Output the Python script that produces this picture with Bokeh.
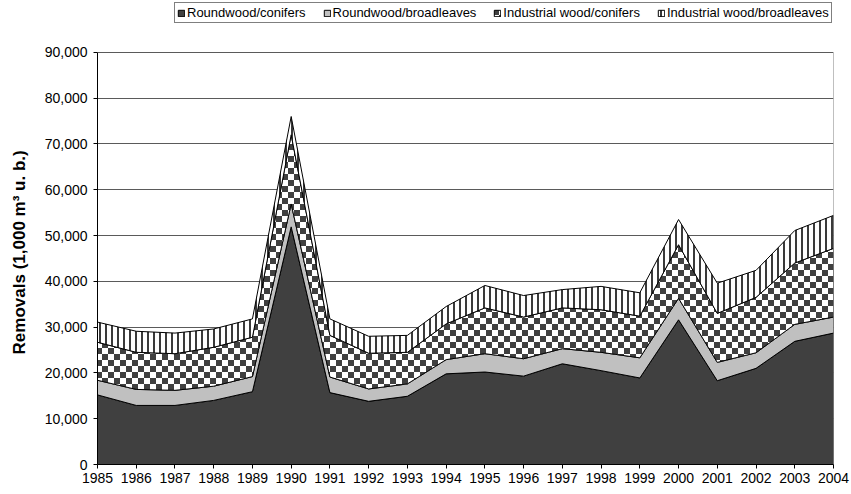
import numpy as np
from bokeh.plotting import figure
from bokeh.models import (Range1d, FixedTicker, NumeralTickFormatter, Legend,
                          LegendItem, CanvasTexture)
from bokeh.embed import file_html
from bokeh.resources import INLINE

years = list(range(1985, 2005))
roundwood_conifers = [15200, 12900, 12900, 14000, 15900, 51900, 15700, 13800, 14900, 19800,
                      20200, 19300, 22000, 20500, 18900, 31600, 18300, 21000, 26900, 28700]
roundwood_broadleaves = [3200, 3500, 3300, 3100, 3300, 5000, 3400, 2700, 2700, 3100,
                         4000, 3800, 3300, 4000, 4400, 4700, 4000, 3400, 3700, 3500]
industrial_conifers = [8300, 8100, 8000, 8500, 8600, 15100, 9100, 7800, 6900, 7800,
                       10000, 9100, 8900, 9300, 9100, 11700, 10700, 12100, 13400, 15000]
industrial_broadleaves = [4400, 4600, 4500, 4000, 4000, 4000, 3600, 3700, 3700, 3800,
                          4900, 4700, 4000, 5100, 5100, 5500, 6600, 5900, 7100, 7200]
series_names = ["Roundwood/conifers", "Roundwood/broadleaves",
                "Industrial wood/conifers", "Industrial wood/broadleaves"]
y_ticks = list(range(0, 90001, 10000))
y_title = "Removals (1,000 m³ u. b.)"

FONT = "Liberation Sans"

# frame extends above the 90,000 line so the legend can sit in the white band on top
p = figure(width=851, height=494, x_range=Range1d(1985, 2004), y_range=Range1d(0, 100900),
           output_backend="svg", toolbar_location=None,
           min_border_left=97, min_border_right=18, min_border_top=2, min_border_bottom=30)
p.background_fill_color = "white"
p.border_fill_color = "white"
p.outline_line_color = None

checker = CanvasTexture(code="""
const c = ctx.canvas;
c.width = 12; c.height = 12;
ctx.fillStyle = "#ffffff"; ctx.fillRect(0, 0, 12, 12);
ctx.fillStyle = "#404040";
ctx.fillRect(0, 0, 6, 6); ctx.fillRect(6, 6, 6, 6);
""")

series = [roundwood_conifers, roundwood_broadleaves, industrial_conifers, industrial_broadleaves]
styles = [
    dict(fill_color="#404040"),
    dict(fill_color="#c0c0c0"),
    dict(fill_color="white", hatch_pattern="checker", hatch_extra={"checker": checker},
         hatch_scale=12, hatch_color="#404040"),
    dict(fill_color="white", hatch_pattern="vertical_line", hatch_scale=6,
         hatch_weight=2, hatch_color="#3a3a3a"),
]

p.xgrid.visible = False
p.ygrid.ticker = FixedTicker(ticks=y_ticks)
p.ygrid.grid_line_color = "#5a5a5a"
p.ygrid.grid_line_width = 1

bottom = np.zeros(len(years))
renderers = []
for vals, st in zip(series, styles):
    top = bottom + np.array(vals, dtype=float)
    xs = years + years[::-1]
    ys = list(top) + list(bottom[::-1])
    r = p.patch(xs, ys, line_color="black", line_width=1, **st)
    renderers.append(r)
    bottom = top

# right-hand border of the plot area (gray), from 0 to the top gridline
p.segment(x0=[years[-1]], y0=[y_ticks[0]], x1=[years[-1]], y1=[y_ticks[-1]],
          line_color="#808080", line_width=1)

for ax in (p.xaxis[0], p.yaxis[0]):
    ax.axis_line_color = "black"
    ax.major_tick_line_color = "black"
    ax.major_tick_out = 4
    ax.major_tick_in = 0
    ax.minor_tick_line_color = None
    ax.major_label_text_font = FONT
    ax.major_label_text_font_size = "14px"
    ax.major_label_text_color = "black"

p.xaxis.ticker = FixedTicker(ticks=years)
p.xaxis.major_label_standoff = 4
p.yaxis.ticker = FixedTicker(ticks=y_ticks)
p.yaxis.bounds = (y_ticks[0], y_ticks[-1])
p.yaxis.formatter = NumeralTickFormatter(format="0,0")
p.yaxis.major_label_standoff = 6
# trailing no-break spaces re-centre the title on the 0..90,000 part of the axis
p.yaxis.axis_label = y_title + "\u00a0" * 8
p.yaxis.axis_label_text_font = FONT
p.yaxis.axis_label_text_font_style = "bold"
p.yaxis.axis_label_text_font_size = "17px"
p.yaxis.axis_label_text_color = "black"
p.yaxis.axis_label_standoff = 13

legend = Legend(items=[LegendItem(label=n, renderers=[r]) for n, r in zip(series_names, renderers)],
                orientation="horizontal", location=(77, 441),
                border_line_color="black", border_line_width=1,
                background_fill_color="white", background_fill_alpha=1,
                label_text_font=FONT, label_text_font_size="13px", label_text_color="black",
                glyph_width=8, glyph_height=8, label_standoff=2, spacing=17,
                padding=2, margin=0, label_height=12)
p.add_layout(legend, "center")

open("out.html", "w").write(file_html(p, INLINE))
